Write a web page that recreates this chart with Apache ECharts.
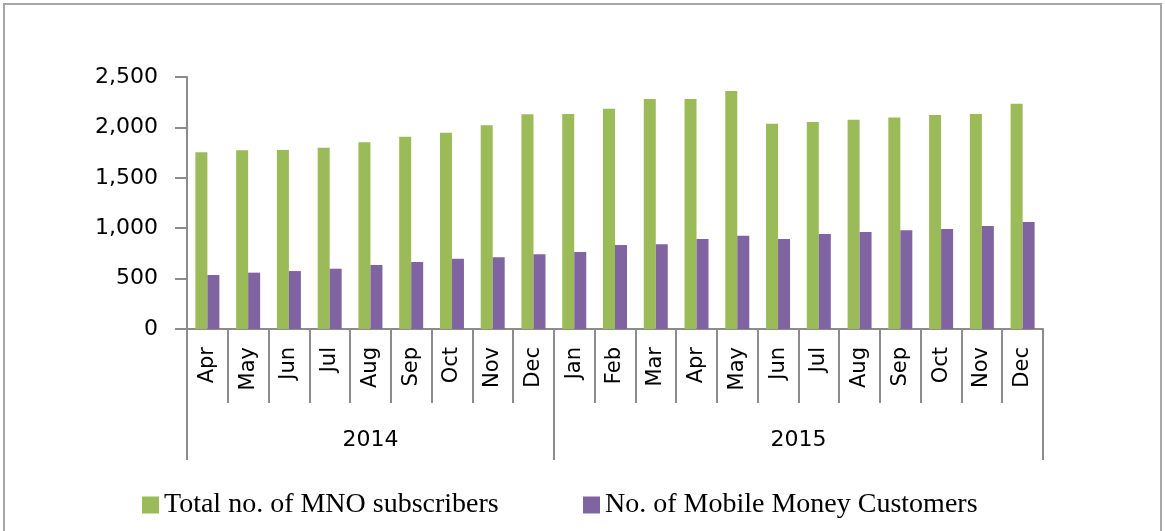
<!DOCTYPE html>
<html>
<head>
<meta charset="utf-8">
<script src="https://cdn.jsdelivr.net/npm/echarts@6/dist/echarts.min.js"></script>
<style>
  html, body { margin:0; padding:0; background:#fff; }
  #chart { width:1165px; height:531px; }
</style>
</head>
<body>
<div id="chart"></div>
<script>
// months shown on the lower axis
var months = ['Apr','May','Jun','Jul','Aug','Sep','Oct','Nov','Dec',
              'Jan','Feb','Mar','Apr','May','Jun','Jul','Aug','Sep','Oct','Nov','Dec'];
var years = ['2014', '2015'];
var yearSpans = [9, 12];   // how many months belong to each year
var mnoSubs = [1753,1773,1776,1799,1852,1908,1948,2021,2130,
               2133,2186,2282,2282,2361,2037,2054,2077,2097,2123,2133,2235];
var mmCustomers = [536,559,575,598,635,665,698,711,741,
                   765,833,840,893,926,893,942,962,979,992,1022,1062];
var yTicks = [0, 500, 1000, 1500, 2000, 2500];

var seriesNames = ['Total no. of MNO subscribers', 'No. of Mobile Money Customers'];

// year group boundaries and midpoints on a 0..n scale
var bounds = [0], mids = [];
yearSpans.forEach(function(n, i){
  var start = bounds[i];
  bounds.push(start + n);
  mids.push(start + n / 2);
});

var axisGray = '#8c8c8c';
var chart = echarts.init(document.getElementById('chart'));

var option = {
  animation: false,
  grid: { left: 187, right: 122, top: 77, bottom: 202 },
  graphic: [{
    type: 'rect',
    shape: { x: 4, y: 4, width: 1157, height: 600 },
    style: { fill: 'none', stroke: '#a6a6a6', lineWidth: 2 },
    silent: true
  }],
  legend: [
    {
      data: [seriesNames[0]], left: 137, top: 486, icon: 'rect',
      itemWidth: 17, itemHeight: 17, itemGap: 0,
      textStyle: { fontFamily: 'Liberation Serif', fontSize: 28, color: '#000' }
    },
    {
      data: [seriesNames[1]], left: 578, top: 486, icon: 'rect',
      itemWidth: 17, itemHeight: 17, itemGap: 0,
      textStyle: { fontFamily: 'Liberation Serif', fontSize: 28, color: '#000' }
    }
  ],
  xAxis: [
    {
      type: 'category',
      data: months,
      axisLine: { show: true, lineStyle: { color: axisGray, width: 2 } },
      axisTick: { show: true, interval: 0, length: 74, lineStyle: { color: axisGray, width: 2 } },
      axisLabel: {
        interval: 0, rotate: 90, margin: 18,
        fontFamily: 'DejaVu Sans', fontSize: 21, color: '#000'
      }
    },
    {
      type: 'value',
      min: 0, max: months.length,
      position: 'bottom', offset: 74,
      axisLine: { show: false },
      splitLine: { show: false },
      axisTick: {
        show: true, customValues: bounds, length: 57,
        lineStyle: { color: axisGray, width: 2 }
      },
      axisLabel: {
        customValues: mids, margin: 26,
        fontFamily: 'DejaVu Sans', fontSize: 22, color: '#000',
        formatter: function(v){ return years[mids.indexOf(v)]; }
      }
    }
  ],
  yAxis: {
    type: 'value',
    min: yTicks[0], max: yTicks[yTicks.length - 1], interval: yTicks[1] - yTicks[0],
    splitLine: { show: false },
    axisLine: { show: true, lineStyle: { color: axisGray, width: 2 } },
    axisTick: { show: true, length: 12, lineStyle: { color: axisGray, width: 2 } },
    axisLabel: {
      margin: 29, fontFamily: 'DejaVu Sans', fontSize: 22, color: '#000',
      formatter: function(v){ return v.toLocaleString('en-US'); }
    }
  },
  series: [
    {
      name: seriesNames[0], type: 'bar', data: mnoSubs,
      barWidth: 12, barGap: '0%',
      itemStyle: { color: '#9bbb59' }
    },
    {
      name: seriesNames[1], type: 'bar', data: mmCustomers,
      barWidth: 12, barGap: '0%',
      itemStyle: { color: '#8064a2' }
    }
  ]
};

chart.setOption(option);
</script>
</body>
</html>
